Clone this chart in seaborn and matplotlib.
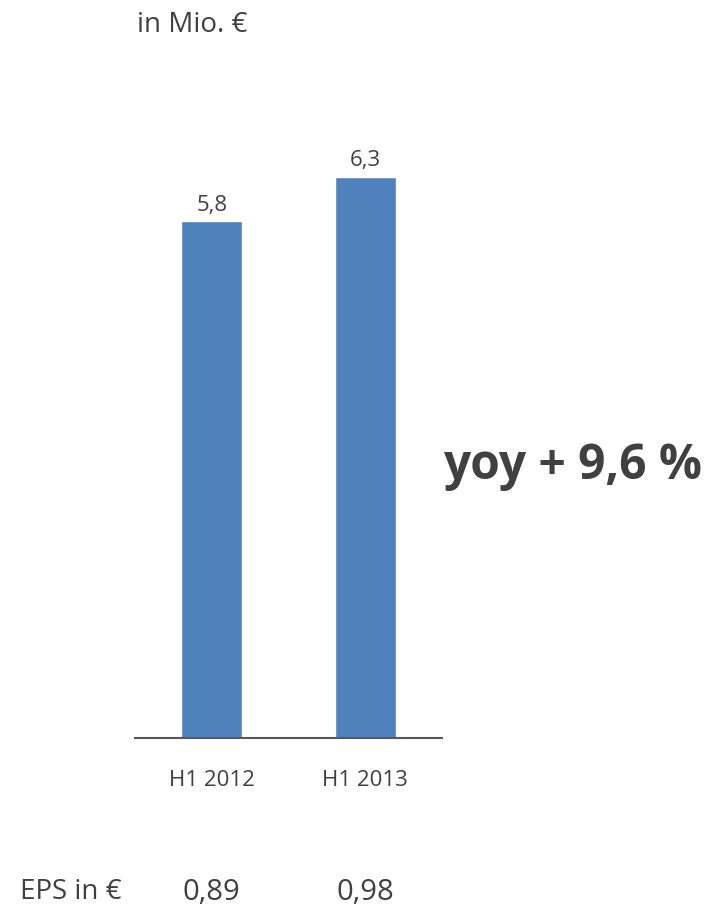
import seaborn as sns
import matplotlib.pyplot as plt
import matplotlib.transforms as mtransforms
import pandas as pd

# chart values
periods = ["H1 2012", "H1 2013"]
net_income = [5.8, 6.3]
value_labels = ["5,8", "6,3"]
eps_labels = ["0,89", "0,98"]

BAR_COLOR = "#4F81BD"
TEXT_COLOR = "#404040"

sns.set_theme(style="white")
plt.rcParams['font.family'] = ['Open Sans', 'DejaVu Sans']

df = pd.DataFrame({"period": periods, "value": net_income})

fig = plt.figure(figsize=(7.15, 9.15), dpi=100)
ax = fig.add_axes([0.1888, 0.1934, 0.4294, 0.6973])

sns.barplot(data=df, x="period", y="value", color=BAR_COLOR, saturation=1,
            width=0.40, ax=ax)

ax.set_xlim(-0.5, 1.5)
ax.set_ylim(0, 7.16)

# only the baseline remains
for side in ["left", "right", "top"]:
    ax.spines[side].set_visible(False)
ax.spines["bottom"].set_color("#595959")
ax.spines["bottom"].set_linewidth(1.5)
ax.set_yticks([])
ax.set_xlabel("")
ax.set_ylabel("")
ax.tick_params(axis="x", length=0, pad=23, labelsize=16, labelcolor=TEXT_COLOR)

# value labels above the bars
for i, (v, lab) in enumerate(zip(net_income, value_labels)):
    ax.annotate(lab, (i, v), xytext=(0, 4), textcoords="offset points",
                ha="center", va="bottom", fontsize=16, color=TEXT_COLOR)

# unit label
fig.text(137 / 715, 1 - 25 / 915, "in Mio. €", ha="left", va="center",
         fontsize=20, color=TEXT_COLOR)

# growth callout
fig.text(443 / 715, 1 - 467 / 915, "yoy + 9,6 %", ha="left", va="center",
         fontsize=34.5, fontweight="bold", color=TEXT_COLOR)

# EPS row aligned with bars
trans = mtransforms.blended_transform_factory(ax.transData, fig.transFigure)
fig.text(20 / 715, 1 - 892 / 915, "EPS in €", ha="left", va="center",
         fontsize=20, color=TEXT_COLOR)
for i, lab in enumerate(eps_labels):
    ax.text(i, 1 - 892 / 915, lab, transform=trans, ha="center", va="center",
            fontsize=21, color=TEXT_COLOR)

fig.savefig("out.png", dpi=100)
